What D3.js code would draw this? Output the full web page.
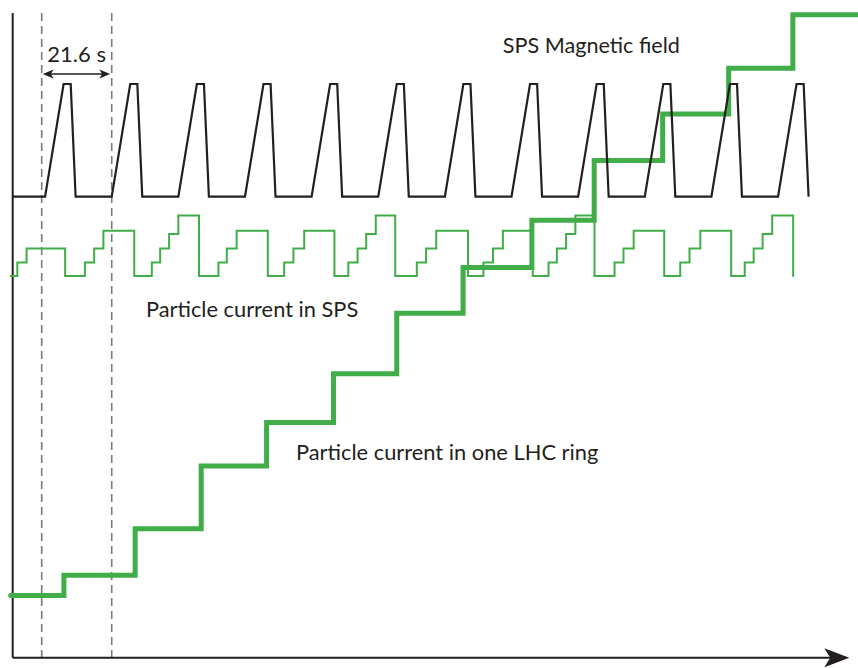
<!DOCTYPE html>
<html>
<head>
<meta charset="utf-8">
<script src="https://cdn.jsdelivr.net/npm/d3@7"></script>
<style>
  body { margin: 0; background: #fff; }
  text { font-family: Lato, "Open Sans", sans-serif; fill: #231f20; }
</style>
</head>
<body>
<div id="graph"></div>
<script>
// SPS magnetic field, [time (s), normalised field]
var fieldPoints = [
  [0, 0],
  [10.5, 0], [16.5, 1], [18.8, 1], [20.4, 0],
  [32.1, 0], [38.1, 1], [40.4, 1], [42.0, 0],
  [53.7, 0], [59.7, 1], [62.0, 1], [63.6, 0],
  [75.3, 0], [81.3, 1], [83.6, 1], [85.2, 0],
  [96.9, 0], [102.9, 1], [105.2, 1], [106.8, 0],
  [118.5, 0], [124.5, 1], [126.8, 1], [128.4, 0],
  [140.1, 0], [146.1, 1], [148.4, 1], [150.0, 0],
  [161.7, 0], [167.7, 1], [170.0, 1], [171.6, 0],
  [183.3, 0], [189.3, 1], [191.6, 1], [193.2, 0],
  [204.9, 0], [210.9, 1], [213.2, 1], [214.8, 0],
  [226.5, 0], [232.5, 1], [234.8, 1], [236.4, 0],
  [248.1, 0], [254.1, 1], [256.4, 1], [258.0, 0]
];

// particle current in the SPS, [time (s), batches] (step after)
var spsCurrent = [
  [-0.65, 0], [1.5, 1], [4.5, 2.05], [17.0, 0],
  [23.4, 1], [26.4, 2.05], [29.4, 3.37], [39.4, 0],
  [45.1, 1], [47.8, 2.05], [50.7, 3.12], [53.7, 4.5], [60.4, 0],
  [66.7, 1], [69.4, 2.05], [72.6, 3.37], [82.7, 0],
  [88.0, 1], [91.0, 2.05], [94.5, 3.37], [104.3, 0],
  [108.8, 1], [111.8, 2.05], [114.6, 3.12], [117.7, 4.5], [124.0, 0],
  [131.0, 1], [134.0, 2.05], [137.3, 3.37], [147.6, 0],
  [152.6, 1], [155.7, 2.05], [158.9, 3.37], [168.6, 0],
  [173.7, 1], [176.4, 2.05], [179.4, 3.12], [182.4, 4.5], [188.6, 0],
  [195.1, 1], [198.0, 2.05], [201.3, 3.37], [211.2, 0],
  [216.4, 1], [219.4, 2.05], [222.9, 3.37], [232.9, 0],
  [237.3, 1], [240.2, 2.05], [243.1, 3.12], [246.2, 4.5], [253.0, 0]
];

// particle current in one LHC ring, [time (s), % of full] (step after)
var lhcCurrent = [
  [-0.65, 0], [16.6, 3.5], [39.7, 11.5], [61.1, 22.3], [82.3, 29.8],
  [104.0, 38.2], [124.5, 48.6], [146.0, 56.5], [168.3, 64.6], [188.5, 74.9],
  [210.7, 82.9], [232.1, 90.8], [252.9, 100], [274.2, 100]
];

var markerTimes = [9.4, 32.1];
var cycleLabel = "21.6 s";
var fieldLabel = "SPS Magnetic field";
var spsLabel = "Particle current in SPS";
var lhcLabel = "Particle current in one LHC ring";

var width = 858, height = 668;
var ink = "#231f20", green = "#40ad48";
var axisTop = 13, axisY = 657.7;

var x = d3.scaleLinear().domain([0, 271.2]).range([12.7, 849.3]);
var yField = d3.scaleLinear().domain([0, 1]).range([196.7, 84]);
var ySps = d3.scaleLinear().domain([0, 4.5]).range([276, 215.5]);
var yLhc = d3.scaleLinear().domain([0, 100]).range([595.6, 14.7]);

var svg = d3.select("#graph").append("svg")
    .attr("width", width)
    .attr("height", height);

// dashed markers for one cycle
svg.selectAll(".marker")
    .data(markerTimes)
  .enter().append("line")
    .attr("class", "marker")
    .attr("x1", function(d) { return x(d); })
    .attr("x2", function(d) { return x(d); })
    .attr("y1", axisTop)
    .attr("y2", axisY)
    .attr("stroke", "#7a7a7a")
    .attr("stroke-width", 1.6)
    .attr("stroke-dasharray", "8,5");

// axes
var tip = x.range()[1];
svg.append("line")
    .attr("x1", x(0)).attr("x2", x(0))
    .attr("y1", axisTop).attr("y2", axisY)
    .attr("stroke", ink).attr("stroke-width", 2);
svg.append("line")
    .attr("x1", x(0)).attr("x2", tip - 18)
    .attr("y1", axisY).attr("y2", axisY)
    .attr("stroke", ink).attr("stroke-width", 2);
svg.append("path")
    .attr("d", "M" + tip + "," + axisY + "L" + (tip - 25) + "," + (axisY - 9.5) +
               "L" + (tip - 19) + "," + axisY + "L" + (tip - 25) + "," + (axisY + 9.5) + "Z")
    .attr("fill", ink);

// 21.6 s annotation
var ax1 = x(markerTimes[0]) + 1, ax2 = x(markerTimes[1]) - 1.5, ay = 74;
svg.append("line")
    .attr("x1", ax1 + 3).attr("x2", ax2 - 3)
    .attr("y1", ay).attr("y2", ay)
    .attr("stroke", ink).attr("stroke-width", 1.5);
svg.append("path")
    .attr("d", "M" + ax1 + "," + ay + "l11,-4.5l-3,4.5l3,4.5Z" +
               "M" + ax2 + "," + ay + "l-11,-4.5l3,4.5l-3,4.5Z")
    .attr("fill", ink);

var line = d3.line()
    .curve(d3.curveStepAfter);

svg.append("path")
    .datum(spsCurrent)
    .attr("fill", "none")
    .attr("stroke", green)
    .attr("stroke-width", 2)
    .attr("stroke-linecap", "round")
    .attr("d", line.x(function(d) { return x(d[0]); }).y(function(d) { return ySps(d[1]); }));

svg.append("path")
    .datum(lhcCurrent)
    .attr("fill", "none")
    .attr("stroke", green)
    .attr("stroke-width", 5)
    .attr("stroke-linecap", "round")
    .attr("d", line.x(function(d) { return x(d[0]); }).y(function(d) { return yLhc(d[1]); }));

svg.append("path")
    .datum(fieldPoints)
    .attr("fill", "none")
    .attr("stroke", ink)
    .attr("stroke-width", 2.2)
    .attr("d", d3.line()
        .x(function(d) { return x(d[0]); })
        .y(function(d) { return yField(d[1]); }));

// labels
function label(txt, lx, ly, len) {
  svg.append("text")
      .attr("x", lx).attr("y", ly)
      .attr("font-size", 22)
      .attr("textLength", len)
      .attr("lengthAdjust", "spacingAndGlyphs")
      .text(txt);
}
label(cycleLabel, 47.3, 61.7, 58.7);
label(fieldLabel, 502.7, 53.3, 177.3);
label(spsLabel, 146, 317.3, 212.3);
label(lhcLabel, 296, 460.3, 302.3);
</script>
</body>
</html>
